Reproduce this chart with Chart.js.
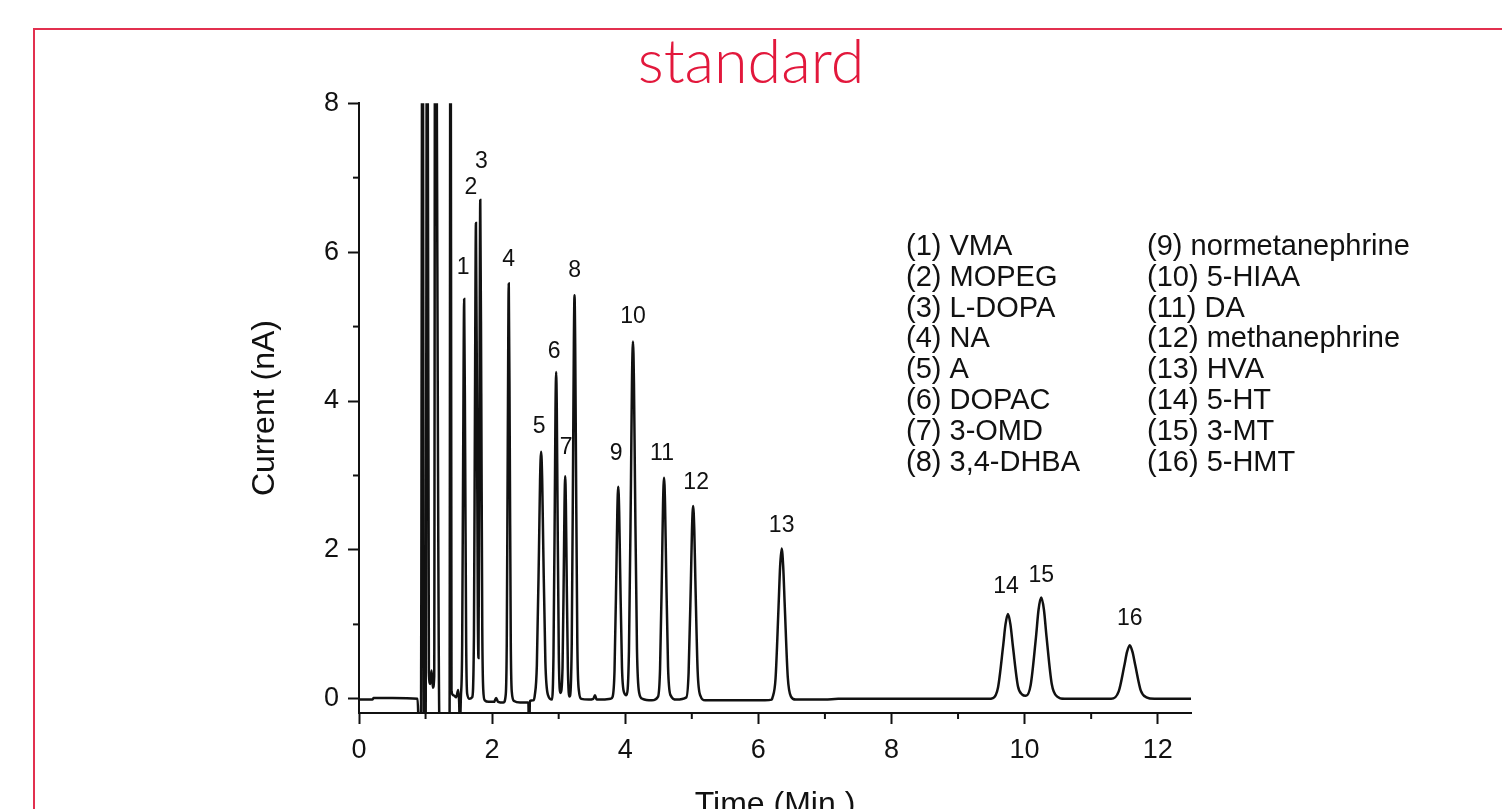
<!DOCTYPE html>
<html>
<head>
<meta charset="utf-8">
<script src="https://cdn.jsdelivr.net/npm/chart.js@4.4.1/dist/chart.umd.min.js"></script>
<style>
  html, body { margin: 0; padding: 0; background: #ffffff; overflow: hidden; }
  #frame { position: absolute; left: 33px; top: 28px; width: 2000px; height: 2000px;
           border-left: 2px solid #e2304f; border-top: 2px solid #e2304f; }
  #c { position: absolute; left: 0; top: 0; }
</style>
</head>
<body>
<div id="frame"></div>
<canvas id="c" width="1502" height="809"></canvas>
<script>
// ---------------- DATA ----------------
const chartTitle = 'standard';
const xAxisTitle = 'Time (Min.)';
const yAxisTitle = 'Current (nA)';

const xMajorTicks = [0, 2, 4, 6, 8, 10, 12];
const xMinorTicks = [1, 3, 5, 7, 9, 11];
const yMajorTicks = [0, 2, 4, 6, 8];
const yMinorTicks = [1, 3, 5, 7];

// retention time (min)
const timeMin = [
  0, 0.2, 0.22, 0.5, 0.88,
  0.9, 0.93, 0.955, 0.975, 1.0, 1.025, 1.05, 1.07, 1.09, 1.11, 1.13, 1.145, 1.21, 1.36, 1.375, 1.39, 1.42, 1.46, 1.49, 1.505, 1.515, 1.53,
  1.55, 1.565, 1.58, 1.595, 1.61, 1.625, 1.66,
  1.70, 1.727, 1.742, 1.757, 1.772, 1.785, 1.795, 1.807, 1.822, 1.837, 1.852, 1.867, 1.89,
  1.95, 2.03, 2.06, 2.09, 2.17,
  2.205, 2.22, 2.235, 2.25, 2.265, 2.28, 2.295, 2.33,
  2.42, 2.545, 2.552, 2.56, 2.567, 2.62,
  2.64, 2.672, 2.704, 2.72, 2.736, 2.752, 2.768, 2.8, 2.84, 2.9,
  2.922, 2.942, 2.952, 2.962, 2.972, 2.982, 3.002, 3.027,
  3.058, 3.078, 3.088, 3.098, 3.108, 3.118, 3.138, 3.163,
  3.196, 3.217, 3.228, 3.238, 3.248, 3.259, 3.28, 3.305, 3.34,
  3.45, 3.52, 3.545, 3.57, 3.65, 3.78,
  3.811, 3.839, 3.867, 3.881, 3.895, 3.909, 3.923, 3.951, 3.985, 4.017,
  4.056, 4.086, 4.101, 4.116, 4.131, 4.146, 4.176, 4.21, 4.26,
  4.4,
  4.493, 4.523, 4.553, 4.568, 4.583, 4.598, 4.613, 4.643, 4.68, 4.77,
  4.918, 4.952, 4.986, 5.003, 5.02, 5.037, 5.054, 5.088, 5.13, 5.2,
  5.6, 6.1, 6.2,
  6.21, 6.258, 6.303, 6.327, 6.35, 6.373, 6.397, 6.442, 6.49, 6.56,
  7.0, 7.2, 8.0, 9.0, 9.45,
  9.525, 9.6, 9.675, 9.713, 9.75, 9.787, 9.825, 9.9, 9.96, 10.02,
  10.092, 10.171, 10.21, 10.25, 10.29, 10.329, 10.408, 10.49, 10.6,
  11.0, 11.3,
  11.414, 11.497, 11.539, 11.58, 11.621, 11.663, 11.746, 11.83, 11.95,
  12.5
];

// detector current (nA)
const currentNA = [
  -0.01, -0.01, 0.01, 0.01, 0.0,
  -0.4, -0.4, 12, -0.4, -0.4, 12, 0.35, 0.2, 0.38, 0.15, 0.3, 12, -0.4, -0.4, 12, 0.1, 0.05, 0.02, 0.12, -0.05, -0.4, 0.0,
  0.72, 3.27, 5.37, 3.3, 0.75, 0.07, 0.0,
  0.02, 0.86, 3.9, 6.39, 3.95, 1.2, 0.55, 3.0, 6.70, 4.1, 0.95, 0.12, -0.02,
  -0.04, -0.04, 0.01, -0.04, -0.05,
  0.06, 0.75, 3.4, 5.58, 3.45, 0.8, 0.1, -0.03,
  -0.05, -0.05, -0.4, -0.4, -0.03, -0.02,
  0.04, 0.45, 2.0, 2.93, 3.32, 2.95, 2.05, 0.5, 0.05, -0.01,
  0.59, 2.66, 3.87, 4.39, 3.87, 2.66, 0.59, 0.08,
  0.42, 1.82, 2.63, 2.99, 2.63, 1.82, 0.42, 0.03,
  0.73, 3.3, 4.77, 5.42, 4.77, 3.3, 0.75, 0.1, 0.0,
  -0.01, 0.0, 0.05, -0.01, -0.01, 0.0,
  0.03, 0.38, 1.73, 2.51, 2.85, 2.51, 1.75, 0.42, 0.08, 0.05,
  0.65, 2.91, 4.24, 4.80, 4.24, 2.93, 0.68, 0.08, 0.0,
  -0.02,
  0.03, 0.4, 1.8, 2.62, 2.97, 2.62, 1.82, 0.43, 0.05, -0.01,
  0.02, 0.35, 1.57, 2.28, 2.59, 2.28, 1.58, 0.37, 0.04, -0.02,
  -0.02, -0.02, -0.01,
  0.01, 0.27, 1.23, 1.78, 2.02, 1.78, 1.24, 0.29, 0.03, -0.01,
  -0.01, 0.0, 0.0, 0.0, 0.0,
  0.01, 0.15, 0.69, 1.0, 1.14, 1.0, 0.7, 0.17, 0.06, 0.04,
  0.19, 0.83, 1.2, 1.36, 1.2, 0.84, 0.2, 0.03, 0.0,
  0.0, 0.0,
  0.1, 0.44, 0.63, 0.72, 0.63, 0.45, 0.11, 0.02, 0.0,
  0.0
];

// numbered peaks: apex time / apex current
const peakNumbers = [1, 2, 3, 4, 5, 6, 7, 8, 9, 10, 11, 12, 13, 14, 15, 16];
const peakTimes   = [1.58, 1.757, 1.822, 2.25, 2.736, 2.962, 3.098, 3.238, 3.895, 4.116, 4.583, 5.02, 6.35, 9.75, 10.25, 11.58];
const peakApex    = [5.37, 6.39, 6.70, 5.58, 3.32, 4.39, 2.99, 5.42, 2.85, 4.80, 2.97, 2.59, 2.02, 1.14, 1.36, 0.72];

const compounds = ['VMA', 'MOPEG', 'L-DOPA', 'NA', 'A', 'DOPAC', '3-OMD', '3,4-DHBA',
                   'normetanephrine', '5-HIAA', 'DA', 'methanephrine', 'HVA', '5-HT', '3-MT', '5-HMT'];

// ---------------- LAYOUT / STYLE ----------------
const FONT = "'Liberation Sans', Arial, Helvetica, sans-serif";
const INK = '#111111';
// label nudges in pixels [dx, dy] relative to each peak apex
const labelOffsets = [[-1,-31],[-5,-35],[1,-38],[0,-24],[-2,-25],[-2,-20],[1,-29],[0,-25],
                      [-2,-33],[0,-25],[-2,-24],[3,-23],[0,-23],[-2,-27],[0,-22],[0,-27]];
const legendCols = [906, 1147];
const legendTop = 247;
const legendRowStep = 30.8;

const points = timeMin.map((t, k) => ({ x: t, y: currentNA[k] }));

const minorTicksPlugin = {
  id: 'minorTicks',
  afterDraw(chart) {
    const { ctx, chartArea, scales: { x, y } } = chart;
    ctx.save();
    ctx.strokeStyle = INK;
    ctx.lineWidth = 2;
    yMinorTicks.forEach(v => {
      const py = y.getPixelForValue(v);
      ctx.beginPath(); ctx.moveTo(chartArea.left - 6, py); ctx.lineTo(chartArea.left, py); ctx.stroke();
    });
    xMinorTicks.forEach(v => {
      const px = x.getPixelForValue(v);
      ctx.beginPath(); ctx.moveTo(px, chartArea.bottom); ctx.lineTo(px, chartArea.bottom + 6); ctx.stroke();
    });
    ctx.restore();
  }
};

const peakLabelPlugin = {
  id: 'peakLabels',
  afterDatasetsDraw(chart) {
    const { ctx, scales: { x, y } } = chart;
    ctx.save();
    ctx.font = '23px ' + FONT;
    ctx.fillStyle = INK;
    ctx.textAlign = 'center';
    ctx.textBaseline = 'middle';
    peakNumbers.forEach((n, k) => {
      const [dx, dy] = labelOffsets[k];
      ctx.fillText(String(n), x.getPixelForValue(peakTimes[k]) + dx, y.getPixelForValue(peakApex[k]) + dy);
    });
    ctx.restore();
  }
};

const compoundLegendPlugin = {
  id: 'compoundLegend',
  afterDraw(chart) {
    const ctx = chart.ctx;
    ctx.save();
    ctx.font = '29px ' + FONT;
    ctx.fillStyle = INK;
    ctx.textAlign = 'left';
    ctx.textBaseline = 'middle';
    compounds.forEach((name, k) => {
      const col = Math.floor(k / 8), row = k % 8;
      ctx.fillText('(' + peakNumbers[k] + ') ' + name, legendCols[col], legendTop + row * legendRowStep);
    });
    ctx.restore();
  }
};

new Chart(document.getElementById('c'), {
  type: 'line',
  data: {
    datasets: [{
      data: points,
      borderColor: INK,
      borderWidth: 2.5,
      pointRadius: 0,
      fill: false,
      cubicInterpolationMode: 'monotone'
    }]
  },
  options: {
    responsive: false,
    animation: false,
    events: [],
    layout: { padding: 0 },
    plugins: {
      legend: { display: false },
      tooltip: { enabled: false },
      title: {
        display: true,
        text: chartTitle,
        color: '#e2183c',
        font: { family: 'Lato', weight: '300', size: 61, lineHeight: 1.2 },
        padding: { top: 27, bottom: 3 }
      }
    },
    scales: {
      x: {
        type: 'linear',
        min: 0, max: 12.5,
        afterBuildTicks: s => { s.ticks = xMajorTicks.map(v => ({ value: v })); },
        afterFit: s => { s.height = 96; },
        border: { display: true, color: INK, width: 2 },
        grid: { display: true, drawOnChartArea: false, drawTicks: true, tickLength: 11, tickWidth: 2, tickColor: INK },
        ticks: { font: { family: FONT, size: 27 }, color: INK, padding: 10, maxRotation: 0, autoSkip: false },
        title: { display: true, text: xAxisTitle, color: INK, font: { family: FONT, size: 32 }, padding: { top: 0, bottom: -15 } }
      },
      y: {
        type: 'linear',
        min: -0.19, max: 8,
        afterBuildTicks: s => { s.ticks = yMajorTicks.map(v => ({ value: v })); },
        afterFit: s => { s.width = 359; },
        border: { display: true, color: INK, width: 2 },
        grid: { display: true, drawOnChartArea: false, drawTicks: true, tickLength: 11, tickWidth: 2, tickColor: INK },
        ticks: { font: { family: FONT, size: 27 }, color: INK, padding: 9 },
        title: { display: true, text: yAxisTitle, color: INK, font: { family: FONT, size: 32 }, padding: { top: 246, bottom: 0 } }
      },
      yRight: {
        type: 'linear',
        position: 'right',
        display: true,
        afterFit: s => { s.width = 311; },
        grid: { display: false },
        border: { display: false },
        ticks: { display: false }
      }
    }
  },
  plugins: [minorTicksPlugin, peakLabelPlugin, compoundLegendPlugin]
});
</script>
</body>
</html>
